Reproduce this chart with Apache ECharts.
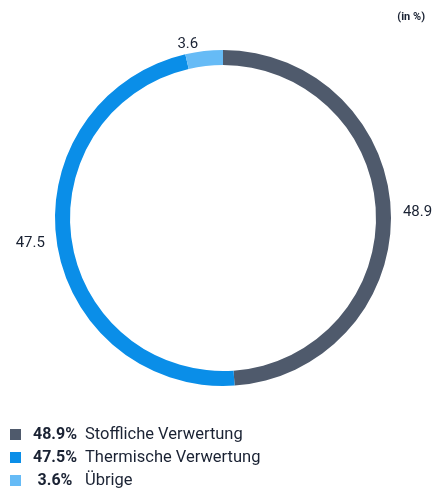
<!DOCTYPE html>
<html>
<head>
<meta charset="utf-8">
<script src="https://cdn.jsdelivr.net/npm/echarts@6/dist/echarts.min.js"></script>
<style>
  html, body { margin: 0; padding: 0; background: #fff; }
  #chart { width: 433px; height: 490px; }
</style>
</head>
<body>
<div id="chart"></div>
<script>
// Shares of waste recovery (in %)
const categories = ['Stoffliche Verwertung', 'Thermische Verwertung', 'Übrige'];
const values = [48.9, 47.5, 3.6];
const colors = ['#4f5a6c', '#0a8ee8', '#66bbf6'];

const chart = echarts.init(document.getElementById('chart'));

const fmt = v => v.toFixed(1);

chart.setOption({
  animation: false,
  color: colors,
  textStyle: { fontFamily: 'Roboto, sans-serif' },
  graphic: [{
    type: 'text',
    right: 8,
    top: 12,
    style: { text: '(in %)', font: 'bold 11px Roboto, sans-serif', fill: '#1a2233' }
  }],
  legend: {
    orient: 'vertical',
    left: 5,
    top: 421,
    height: 80,
    itemWidth: 11,
    itemHeight: 11,
    itemGap: 6,
    icon: 'rect',
    data: categories,
    formatter: name => {
      const i = categories.indexOf(name);
      return '{v|' + fmt(values[i]) + '%}{n|' + name + '}';
    },
    textStyle: {
      rich: {
        v: { fontSize: 16, fontWeight: 'bold', color: '#1a2233', width: 58, align: 'right', fontFamily: 'Roboto, sans-serif' },
        n: { fontSize: 16.5, color: '#1a2233', padding: [0, 0, 0, 1], fontFamily: 'Roboto, sans-serif' }
      }
    }
  },
  series: [{
    type: 'pie',
    center: [223, 218],
    radius: [153, 168],
    startAngle: 90,
    clockwise: true,
    avoidLabelOverlap: false,
    label: {
      show: true,
      position: 'outside',
      formatter: p => fmt(p.value),
      fontSize: 15,
      color: '#1a2233'
    },
    labelLine: { show: false, length: 7, length2: 0 },
    emphasis: { disabled: true },
    data: categories.map((c, i) => ({ name: c, value: values[i] }))
  }]
});
</script>
</body>
</html>
